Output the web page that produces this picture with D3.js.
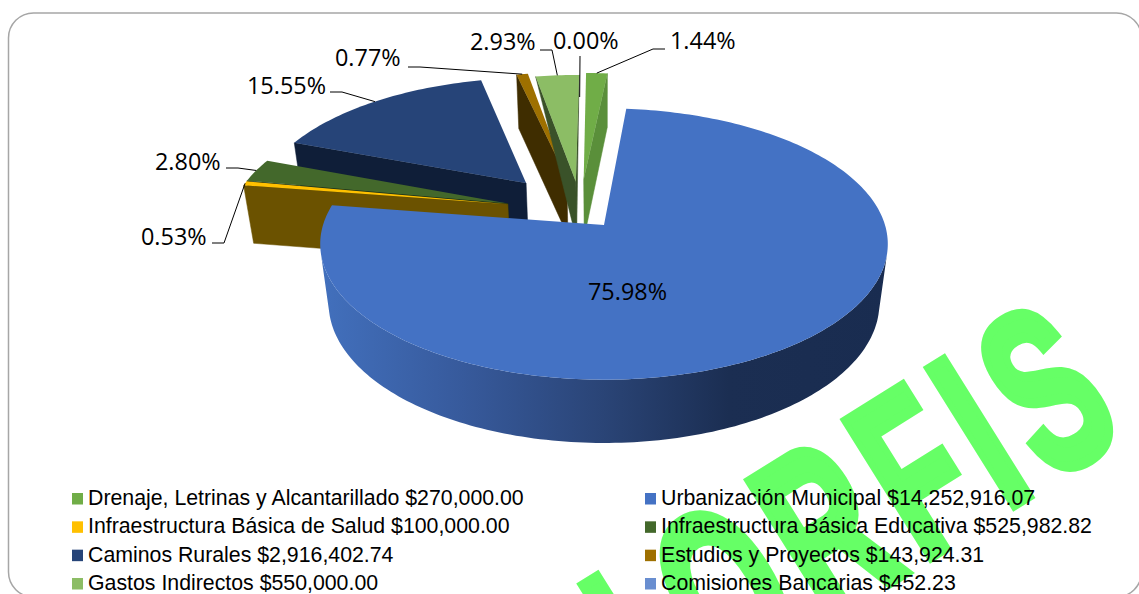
<!DOCTYPE html>
<html>
<head>
<meta charset="utf-8">
<script src="https://cdn.jsdelivr.net/npm/d3@7"></script>
<style>
  html, body { margin: 0; padding: 0; background: #fff; overflow: hidden; }
  svg { display: block; }
</style>
</head>
<body>
<svg id="chart" width="1139" height="594"></svg>
<script>
// chart data, in pie order
const categories = ["Drenaje, Letrinas y Alcantarillado", "Urbanización Municipal", "Infraestructura Básica de Salud",
  "Infraestructura Básica Educativa", "Caminos Rurales", "Estudios y Proyectos", "Gastos Indirectos", "Comisiones Bancarias"];
const amounts = [270000.00, 14252916.07, 100000.00, 525982.82, 2916402.74, 143924.31, 550000.00, 452.23];

// styles per slice
const topColors = ["#70ad47", "#4472c4", "#ffc000", "#43682b", "#264478", "#9e7000", "#8cbd65", "#698ed0"];
const wallColors = ["#5a8f3a", "url(#blueWall)", "#6b5200", "#1f3313", "#0f1e38", "#3f2d00", "#3a5229", "#3f5a8c"];

// where each slice's tip sits on the pie plane (exploded), in pie radii
const tips = [[-.076, .36], [0, 0], [-.35, .16], [-.35, .165], [-.29, .33], [-.139, .37], [-.105, .34], [-.10, .112]];
const radii = [1, 1, 1, 1, .98, 1, 1, 1];
// wall height of the cut faces at tip and at rim
const faceDepth = [[1, 1], [1, 1], [1, 1], [1, 1], [1, 1], [1, 1], [1, 0], [1, 1]];
const drawOrder = [4, 3, 2, 5, 6, 7, 0, 1];

// label anchor (end of text side), then elbow x,y of the leader
const labelPos = [[670, 49], [588, 300], [141, 245], [155, 170], [247, 94], [335, 66], [470, 50], [553, 49]];
const leaders = [[[665, 49], [653, 49]], null, [[212, 243], [224, 243]], [[226, 168], [238, 168]],
  [[330, 92], [342, 92]], [[408, 67], [420, 67]], [[540, 50], [552, 50]], [[580, 56]]];

const svg = d3.select("#chart");

// simple perspective: v goes away from the viewer, z goes down the wall
function project(u, v, z) {
  const w = 1 + 0.14 * v + 0.03 * z;
  return [604 + 281 * u / w, 225 + (-133 * v + 61 * z) / w];
}

const defs = svg.append("defs");
const grad = defs.append("linearGradient").attr("id", "blueWall")
  .attr("gradientUnits", "userSpaceOnUse").attr("x1", 320).attr("x2", 888).attr("y1", 0).attr("y2", 0);
[[0, "#4270bd"], [.25, "#375a9c"], [.5, "#2a4476"], [.72, "#1b2e52"], [1, "#192c50"]].forEach(s =>
  grad.append("stop").attr("offset", s[0]).attr("stop-color", s[1]));

// chart frame
svg.append("rect").attr("x", 8.5).attr("y", 13).attr("width", 1133).attr("height", 584).attr("rx", 25)
  .attr("fill", "#fff").attr("stroke", "#a6a6a6").attr("stroke-width", 1.5);

const pie = d3.pie().sort(null)(amounts);
const total = d3.sum(amounts);
const pct = d3.format(".2%");
const money = d3.format("$,.2f");
const line = d3.line();

function rimPoint(i, a, z) {
  return project(tips[i][0] + radii[i] * Math.sin(a), tips[i][1] + radii[i] * Math.cos(a), z);
}

drawOrder.forEach(i => {
  const s = pie[i];
  const steps = Math.max(2, Math.ceil((s.endAngle - s.startAngle) / 0.02));
  const angles = d3.range(steps + 1).map(k => s.startAngle + (s.endAngle - s.startAngle) * k / steps);
  if (s.endAngle - s.startAngle < 1e-3) return;

  const g = svg.append("g").attr("class", "slice");
  const tipTop = project(tips[i][0], tips[i][1], 0);
  const tipBot = project(tips[i][0], tips[i][1], faceDepth[i][0]);
  const rimD = faceDepth[i][1];

  // cut faces
  const faceA = [tipTop, rimPoint(i, s.startAngle, 0), rimPoint(i, s.startAngle, rimD), tipBot];
  const faceB = [rimPoint(i, s.endAngle, 0), tipTop, tipBot, rimPoint(i, s.endAngle, rimD)];
  [faceA, faceB].forEach(q => {
    if (d3.polygonArea(q) > 0) {
      g.append("path").attr("d", line(q) + "Z").attr("fill", wallColors[i]).attr("stroke", wallColors[i]).attr("stroke-width", .5);
    }
  });

  // outer wall, only the quads that face the viewer
  let rimPath = "";
  for (let k = 0; k < steps; k++) {
    const q = [rimPoint(i, angles[k], 0), rimPoint(i, angles[k + 1], 0), rimPoint(i, angles[k + 1], 1), rimPoint(i, angles[k], 1)];
    if (d3.polygonArea(q) > 0) rimPath += line(q) + "Z";
  }
  if (rimPath) g.append("path").attr("d", rimPath).attr("fill", wallColors[i]);

  // top face
  g.append("path").attr("d", line([tipTop].concat(angles.map(a => rimPoint(i, a, 0)))) + "Z")
    .attr("fill", topColors[i]);
});

// watermark, sits under the legend text
svg.append("text")
  .attr("transform", "translate(1140,426) rotate(-32) scale(.59,1)")
  .attr("text-anchor", "end")
  .attr("font-family", "Liberation Sans").attr("font-weight", "bold").attr("font-size", 232)
  .attr("letter-spacing", 25).attr("word-spacing", -124)
  .attr("fill", "#66ff66").attr("stroke", "#66ff66").attr("stroke-width", 11)
  .text("AL ORFIS");

// data labels with leader lines
pie.forEach((s, i) => {
  const mid = (s.startAngle + s.endAngle) / 2;
  if (leaders[i]) {
    const end = rimPoint(i, mid, 0);
    svg.append("path").attr("d", line(leaders[i].concat([end])))
      .attr("fill", "none").attr("stroke", "#000").attr("stroke-width", 1);
  }
  svg.append("text").attr("x", labelPos[i][0]).attr("y", labelPos[i][1])
    .attr("font-family", "Open Sans").attr("font-size", 23.4).attr("fill", "#000")
    .text(pct(amounts[i] / total));
});

// legend, two columns filled row by row
const legendX = d3.scalePoint().domain([0, 1]).range([72, 645]);
const legendY = d3.scalePoint().domain([0, 1, 2, 3]).range([505, 590]);
const legend = svg.selectAll("g.legend").data(categories).join("g").attr("class", "legend")
  .attr("transform", (d, i) => `translate(${legendX(i % 2)},${legendY(Math.floor(i / 2))})`);
legend.append("rect").attr("x", 0).attr("y", -12).attr("width", 11).attr("height", 11.5)
  .attr("fill", (d, i) => topColors[i]);
legend.append("text").attr("x", 16).attr("y", 0)
  .attr("font-family", "Liberation Sans").attr("font-size", 21.3).attr("fill", "#000")
  .text((d, i) => `${d} ${money(amounts[i])}`);
</script>
</body>
</html>
